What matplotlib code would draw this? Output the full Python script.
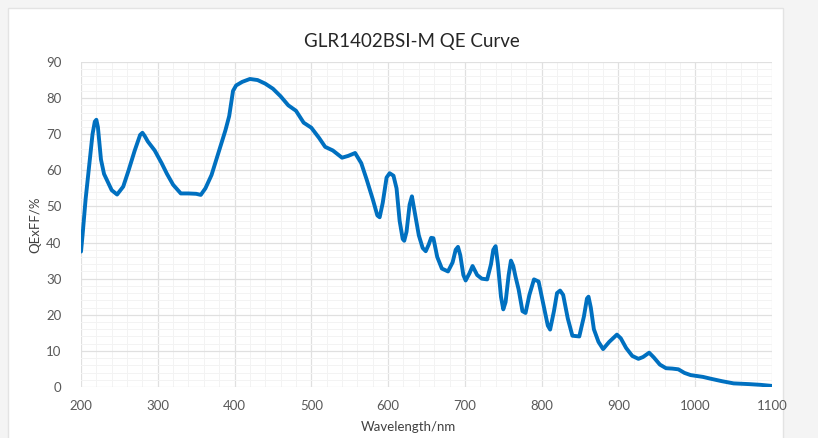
import matplotlib
matplotlib.use('Agg')
from matplotlib import pyplot as plt
from matplotlib.patches import Rectangle
from matplotlib.ticker import MultipleLocator

plt.rcParams['font.family'] = ['Lato', 'DejaVu Sans']

# wavelength (nm) and QE x FF (%)
wavelength = [200, 202, 206, 210, 215, 218, 220, 222, 226, 230, 240, 247, 255, 262, 270, 277, 280,
              283, 287, 296, 305, 312, 320, 330, 340, 350, 356, 362, 370, 380, 388, 393, 398, 402,
              410, 420, 430, 440, 450, 460, 470, 480, 490, 500, 510, 518, 528, 540, 548, 557,
              565, 572, 580, 586, 589, 593, 598, 602, 607, 611, 615, 619, 621, 624, 628, 631,
              635, 640, 645, 649, 653, 656, 659, 664, 670, 678, 684, 688, 691, 694, 698, 701,
              706, 710, 716, 722, 729, 734, 737, 740, 743, 747, 750, 753, 757, 760, 763, 766,
              770, 775, 779, 784, 790, 796, 803, 808, 811, 816, 820, 824, 828, 834, 840, 849,
              855, 859, 861, 864, 868, 874, 880, 888, 898, 903, 910, 918, 926, 932, 940, 946,
              954, 962, 970, 978, 986, 994, 1010, 1020, 1035, 1050, 1070, 1085, 1100]
qe = [37.5, 42, 52, 60, 70, 73.5, 74, 72, 63, 59, 54.5, 53.3, 55.5, 60, 65.5, 69.8, 70.4,
      69.5, 68, 65.5, 62, 59, 56, 53.6, 53.6, 53.5, 53.2, 55, 58.7, 65.5, 71, 75, 82, 83.5,
      84.5, 85.3, 85, 84, 82.6, 80.5, 78, 76.5, 73.2, 71.8, 69, 66.5, 65.5, 63.5, 64, 64.8,
      62, 57.5, 52, 47.5, 47, 51, 58, 59.2, 58.5, 55, 46, 41, 40.5, 43, 50.5, 52.8,
      48, 42, 38.5, 37.6, 39.5, 41.3, 41.2, 36, 32.8, 32, 34.5, 38, 38.8, 36.5, 31, 29.5,
      31.5, 33.5, 31, 30, 29.8, 34, 38, 39, 34, 25, 21.5, 23.5, 31, 35, 33.5, 30.5,
      27, 21, 20.5, 25.5, 29.8, 29.2, 22, 17, 15.9, 21, 26, 26.7, 25.5, 19, 14.2, 14,
      19.5, 24.5, 25, 22, 16, 12.5, 10.5, 12.5, 14.5, 13.5, 10.8, 8.6, 7.8, 8.3, 9.5, 8.2,
      6.2, 5.2, 5.1, 4.9, 3.9, 3.3, 2.8, 2.3, 1.6, 1.0, 0.8, 0.6, 0.3]

x_ticks = [200, 300, 400, 500, 600, 700, 800, 900, 1000, 1100]
y_ticks = [0, 10, 20, 30, 40, 50, 60, 70, 80, 90]

fig = plt.figure(figsize=(8.18, 4.38), dpi=100)
fig.patch.set_facecolor('#f4f4f4')
# white card behind the chart
fig.patches.append(Rectangle((8 / 818, -0.05), 775 / 818, 1.05 - 8 / 438,
                             transform=fig.transFigure, facecolor='white',
                             edgecolor='#e3e3e3', linewidth=1, zorder=-10))

ax = fig.add_axes([81 / 818, 1 - 387 / 438, 691 / 818, 325 / 438])
ax.set_facecolor('white')
ax.plot(wavelength, qe, color='#0070c0', linewidth=2.8, solid_joinstyle='round',
        solid_capstyle='round', zorder=3)

ax.set_xlim(200, 1100)
ax.set_ylim(0, 90)
ax.set_xticks(x_ticks)
ax.set_yticks(y_ticks)
ax.xaxis.set_minor_locator(MultipleLocator(20))
ax.yaxis.set_minor_locator(MultipleLocator(2))
ax.grid(which='major', color='#e0e0e0', linewidth=0.9)
ax.grid(which='minor', color='#f3f3f3', linewidth=0.7)
ax.set_axisbelow(True)
for s in ax.spines.values():
    s.set_visible(False)
ax.tick_params(which='both', length=0, labelsize=9.5, labelcolor='#595959')
ax.tick_params(axis='x', pad=9)
ax.tick_params(axis='y', pad=14)

# title is centred on the chart card, not on the plot area
fig.text(412 / 818, 1 - 42 / 438, 'GLR1402BSI-M QE Curve', fontsize=13.5,
         color='#262626', ha='center', va='center')
ax.set_xlabel('Wavelength/nm', fontsize=9.5, color='#404040')
ax.xaxis.set_label_coords((408 - 81) / 691, -0.105)
ax.set_ylabel('QExFF/%', fontsize=9.5, color='#404040')
ax.yaxis.set_label_coords(-0.058, 0.5)

plt.savefig('out.png', dpi=100, facecolor=fig.get_facecolor())
